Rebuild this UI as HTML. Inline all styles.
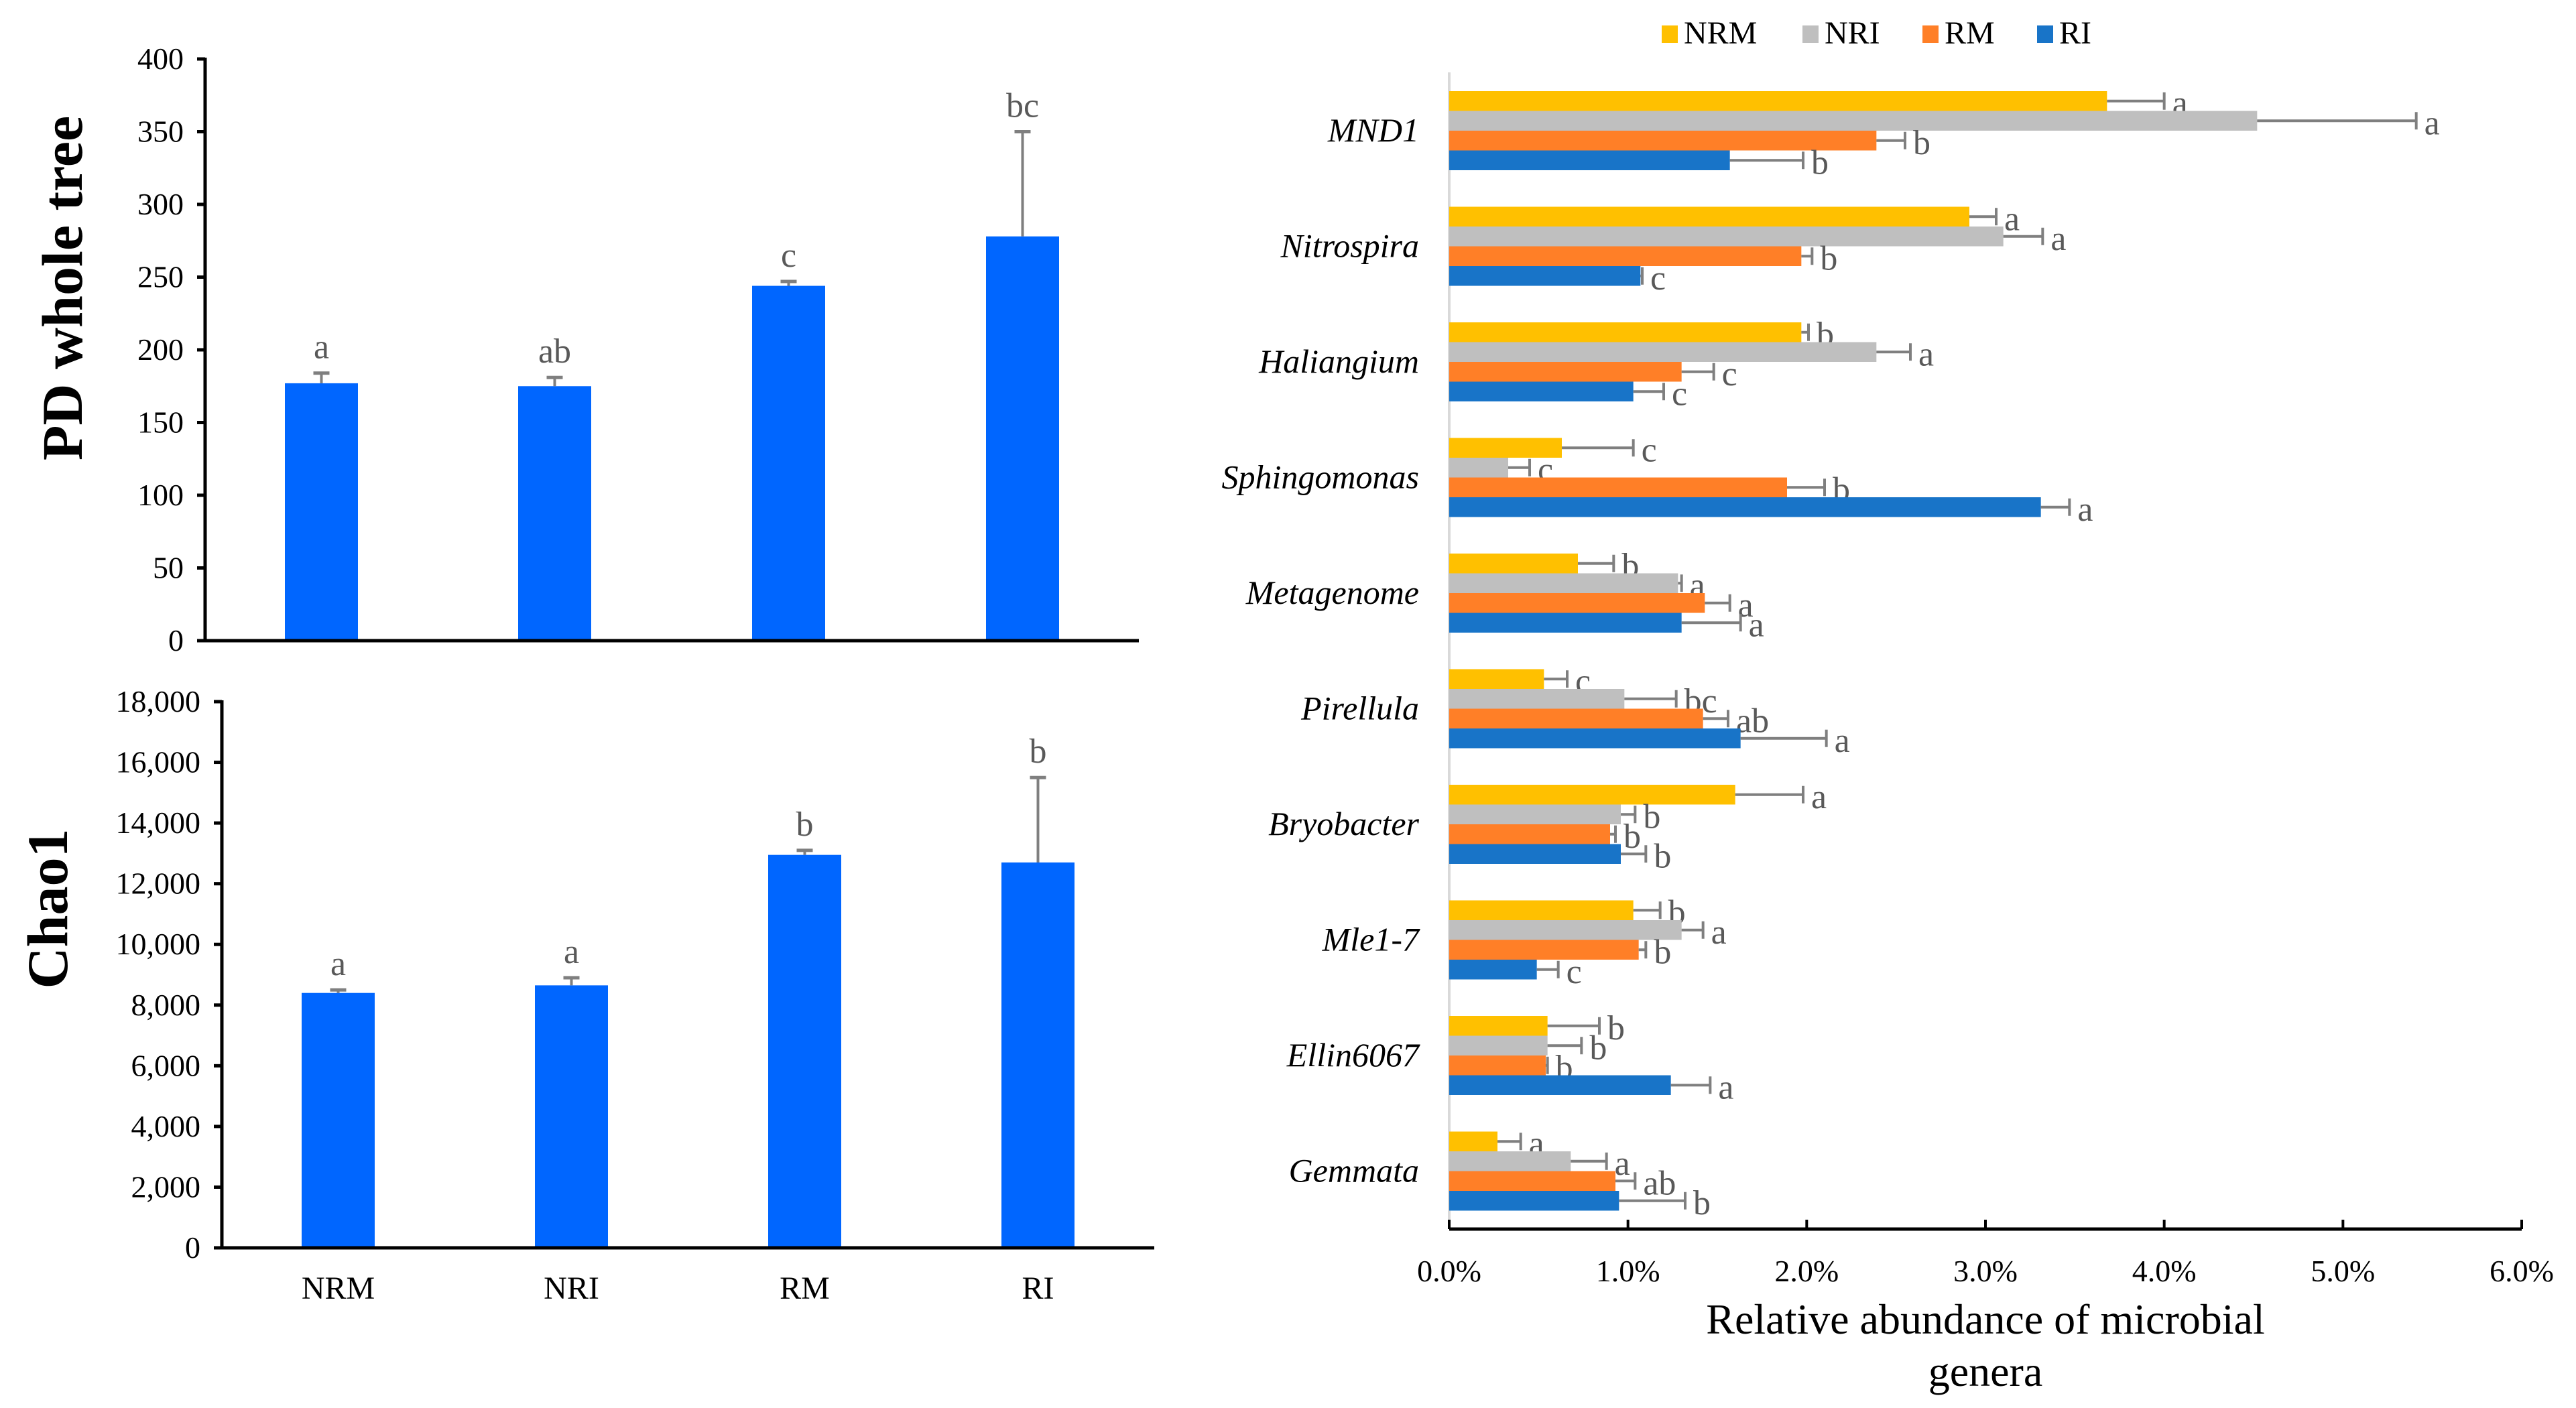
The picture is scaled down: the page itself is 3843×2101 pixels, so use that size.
<!DOCTYPE html>
<html><head><meta charset="utf-8"><style>
html,body{margin:0;padding:0;background:#fff;}
svg{display:block;}
text{font-family:"Liberation Serif","DejaVu Serif",serif;}
</style></head><body>
<svg id="c" width="3843" height="2101" viewBox="0 0 3843 2101" xmlns="http://www.w3.org/2000/svg" font-family="'Liberation Serif', serif"></svg>
<script>
const groupsL = ["NRM","NRI","RM","RI"];
const pdVals = [177,175,244,278];
const pdErr = [184,181,247,350];
const pdLetters = ["a","ab","c","bc"];
const pdTicks = [0,50,100,150,200,250,300,350,400];
const chaoVals = [8400,8650,12950,12700];
const chaoErr = [8500,8900,13100,15500];
const chaoLetters = ["a","a","b","b"];
const chaoTicks = [0,2000,4000,6000,8000,10000,12000,14000,16000,18000];

const genera = ["MND1","Nitrospira","Haliangium","Sphingomonas","Metagenome","Pirellula","Bryobacter","Mle1-7","Ellin6067","Gemmata"];
const seriesNames = ["NRM","NRI","RM","RI"];
const valNRM = [3.68,2.91,1.97,0.63,0.72,0.53,1.60,1.03,0.55,0.27];
const errNRM = [4.00,3.06,2.01,1.03,0.92,0.66,1.98,1.18,0.84,0.40];
const valNRI = [4.52,3.10,2.39,0.33,1.28,0.98,0.96,1.30,0.55,0.68];
const errNRI = [5.41,3.32,2.58,0.45,1.30,1.27,1.04,1.42,0.74,0.88];
const valRM = [2.39,1.97,1.30,1.89,1.43,1.42,0.90,1.06,0.54,0.93];
const errRM = [2.55,2.03,1.48,2.10,1.57,1.56,0.93,1.10,0.55,1.04];
const valRI = [1.57,1.07,1.03,3.31,1.30,1.63,0.96,0.49,1.24,0.95];
const errRI = [1.98,1.08,1.20,3.47,1.63,2.11,1.10,0.61,1.46,1.32];
const letNRM = ["a","a","b","c","b","c","a","b","b","a"];
const letNRI = ["a","a","a","c","a","bc","b","a","b","a"];
const letRM = ["b","b","c","b","a","ab","b","b","b","ab"];
const letRI = ["b","c","c","a","a","a","b","c","a","b"];
const xTicks = [0,1,2,3,4,5,6];

const svg = document.getElementById('c');
const NS = "http://www.w3.org/2000/svg";
const FF = "'Liberation Serif', serif";
function mk(tag, attrs, txt){const e=document.createElementNS(NS,tag);for(const k in attrs)e.setAttribute(k,attrs[k]);if(tag==='text')e.setAttribute('font-family',FF);if(txt!==undefined)e.textContent=txt;svg.appendChild(e);return e;}

function vChart(cfg){
  const {x0,x1,y0,yTop,max,ticks,vals,errs,letters,bars,fmt,title,titleX,titleY,name,showCats} = cfg;
  const ys = v => y0 - (v/max)*(y0-yTop);
  let e;
  ticks.forEach(t=>{
    e=mk('line',{x1:x0-12,x2:x0,y1:ys(t),y2:ys(t),stroke:'#000','stroke-width':5});
    
    
    e=mk('text',{x:x0-32,y:ys(t)+15,'text-anchor':'end','font-size':46,fill:'#000'},fmt(t));
    
    
  });
  vals.forEach((v,i)=>{
    const bx=bars[i], w=109, cx=bx+w/2;
    e=mk('rect',{x:bx,y:ys(v),width:w,height:y0-ys(v),fill:'#0066FF'});
    
    
    e=mk('line',{x1:cx,x2:cx,y1:ys(v),y2:ys(errs[i]),stroke:'#7F7F7F','stroke-width':4});
    
    
    e=mk('line',{x1:cx-12,x2:cx+12,y1:ys(errs[i]),y2:ys(errs[i]),stroke:'#7F7F7F','stroke-width':5});
    
    
    e=mk('text',{x:cx,y:ys(errs[i])-22,'text-anchor':'middle','font-size':52,fill:'#595959'},letters[i]);
    
    
    if(showCats){
      e=mk('text',{x:cx,y:1938,'text-anchor':'middle','font-size':48,fill:'#000'},groupsL[i]);
      
      
    }
  });
  e=mk('line',{x1:x0,x2:x0,y1:yTop-2,y2:y0+2,stroke:'#000','stroke-width':5});
  
  
  e=mk('line',{x1:x0,x2:x1,y1:y0,y2:y0,stroke:'#000','stroke-width':5});
  
  
  e=mk('text',{x:titleX,y:titleY,'text-anchor':'middle','font-size':86,'font-weight':'bold',fill:'#000',transform:`rotate(-90 ${titleX} ${titleY})`},title);
  
  
}
const comma = t => t.toLocaleString('en-US');
vChart({x0:306,x1:1699,y0:956,yTop:88,max:400,ticks:pdTicks,vals:pdVals,errs:pdErr,letters:pdLetters,
  bars:[425,773,1122,1471],fmt:t=>String(t),title:"PD whole tree",titleX:122,titleY:430,name:'pd-chart',showCats:false});
vChart({x0:331,x1:1722,y0:1862,yTop:1047,max:18000,ticks:chaoTicks,vals:chaoVals,errs:chaoErr,letters:chaoLetters,
  bars:[450,798,1146,1494],fmt:comma,title:"Chao1",titleX:100,titleY:1356,name:'chao1-chart',showCats:true});

const X0=2162, X1=3762, AXY=1834;
const xs = v => X0 + v/6*(X1-X0);
const colors = ["#FFC000","#BFBFBF","#FF7F27","#1874C8"];
const vals = [valNRM,valNRI,valRM,valRI];
const errs = [errNRM,errNRI,errRM,errRI];
const lets = [letNRM,letNRI,letRM,letRI];
let e;
e=mk('line',{x1:X0,x2:X0,y1:108,y2:AXY,stroke:'#D9D9D9','stroke-width':4});


genera.forEach((g,i)=>{
  const top = 136 + i*172.5;
  const bh = 29.5;
  e=mk('text',{x:2117,y:top+59+16,'text-anchor':'end','font-size':50,'font-style':'italic',fill:'#000'},g);
  
  
  for(let s=0;s<4;s++){
    const y=top+s*bh, v=vals[s][i], er=errs[s][i], cy=y+bh/2;
    e=mk('rect',{x:X0,y:y,width:xs(v)-X0,height:bh,fill:colors[s]});
    
    
    e=mk('line',{x1:xs(v),x2:xs(er),y1:cy,y2:cy,stroke:'#7F7F7F','stroke-width':4});
    
    
    e=mk('line',{x1:xs(er),x2:xs(er),y1:cy-13,y2:cy+13,stroke:'#7F7F7F','stroke-width':4});
    
    
    e=mk('text',{x:xs(er)+12,y:cy+20,'font-size':52,fill:'#595959'},lets[s][i]);
    
    
  }
});
e=mk('line',{x1:X0,x2:X1,y1:AXY,y2:AXY,stroke:'#000','stroke-width':5});


xTicks.forEach(t=>{
  e=mk('line',{x1:xs(t),x2:xs(t),y1:AXY-14,y2:AXY,stroke:'#000','stroke-width':4});
  
  
  e=mk('text',{x:xs(t),y:1912,'text-anchor':'middle','font-size':46,fill:'#000'},t.toFixed(1)+'%');
  
  
});
e=mk('text',{x:2962,y:1990,'text-anchor':'middle','font-size':64,fill:'#000'},'Relative abundance of microbial');


e=mk('text',{x:2962,y:2068,'text-anchor':'middle','font-size':64,fill:'#000'},'genera');



const legX=[2479,2689,2868,3039];
seriesNames.forEach((n,s)=>{
  e=mk('rect',{x:legX[s],y:38,width:24,height:26,fill:colors[s]});
  
  
  e=mk('text',{x:legX[s]+33,y:65,'font-size':48,fill:'#000'},n);
  
  
});
</script>
</body></html>
